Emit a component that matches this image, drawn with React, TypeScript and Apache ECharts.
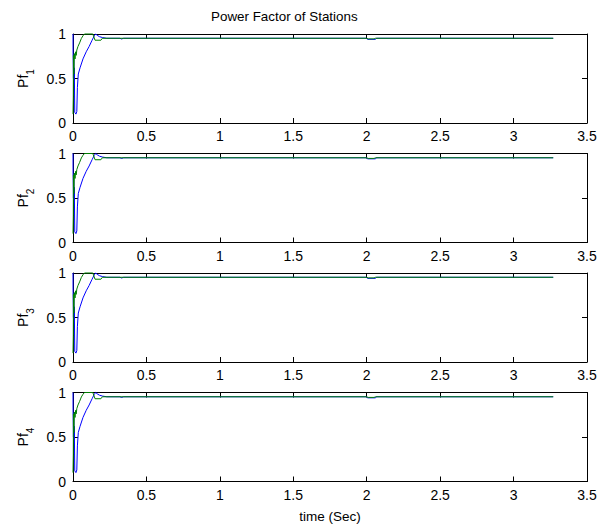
import { useEffect, useRef } from 'react';
import * as echarts from 'echarts';

const TITLE = 'Power Factor of Stations';
const X_LABEL = 'time (Sec)';
const STATIONS = ['1', '2', '3', '4'];

// blue trace (time in s, power factor)
const BLUE_T = [0, 0.0005, 0.003, 0.005, 0.007, 0.009, 0.012, 0.02, 0.026, 0.03, 0.036, 0.048, 0.068, 0.09, 0.11, 0.13, 0.145, 0.155, 0.165, 0.18, 0.2, 0.23, 0.32, 0.33, 0.345, 2.0, 2.005, 2.06, 2.065, 3.27];
const BLUE_PF = [1.0, 0.78, 0.5, 0.77, 0.48, 0.62, 0.12, 0.1, 0.13, 0.4, 0.55, 0.62, 0.72, 0.8, 0.86, 0.93, 0.98, 1.0, 0.985, 0.97, 0.96, 0.952, 0.952, 0.944, 0.952, 0.952, 0.94, 0.94, 0.952, 0.952];

// green trace
const GREEN_T = [0, 0.002, 0.003, 0.006, 0.009, 0.014, 0.018, 0.022, 0.026, 0.034, 0.045, 0.057, 0.068, 0.078, 0.135, 0.15, 0.19, 0.2, 2.0, 2.01, 2.05, 2.06, 3.27];
const GREEN_PF = [0.1, 0.3, 0.76, 0.55, 0.78, 0.72, 0.8, 0.76, 0.82, 0.86, 0.9, 0.95, 0.98, 1.0, 1.0, 0.93, 0.93, 0.952, 0.952, 0.945, 0.945, 0.952, 0.952];

const X_MIN = 0;
const X_MAX = 3.5;
const X_STEP = 0.5;
const Y_MIN = 0;
const Y_MAX = 1;
const Y_STEP = 0.5;

const FONT = '"Liberation Sans", Arial, sans-serif';

export default function App() {
  const ref = useRef<HTMLDivElement>(null);
  useEffect(() => {
    const chart = echarts.init(ref.current!, null, { renderer: 'svg' });
    const tops = [34, 153.5, 273, 392.5];
    const left = 73;
    const width = 514;
    const height = 89;
    const blue = BLUE_T.map((t, i) => [t, BLUE_PF[i]]);
    const green = GREEN_T.map((t, i) => [t, GREEN_PF[i]]);
    const line = { color: '#000', width: 1 };
    const tick = { show: true, inside: true, length: 5, lineStyle: { color: '#000', width: 1 } };
    const grids: any[] = [];
    const xAxes: any[] = [];
    const yAxes: any[] = [];
    const series: any[] = [];
    STATIONS.forEach((s, i) => {
      grids.push({ left, top: tops[i], width, height, show: false, containLabel: false });
      const last = i === STATIONS.length - 1;
      xAxes.push({
        type: 'value', gridIndex: i, position: 'bottom', min: X_MIN, max: X_MAX, interval: X_STEP,
        axisLine: { show: true, onZero: false, lineStyle: line }, axisTick: tick, splitLine: { show: false },
        axisLabel: { show: true, margin: 6, color: '#000', fontFamily: FONT, fontSize: 14, formatter: (v: number) => String(v) },
        name: last ? X_LABEL : '', nameLocation: 'middle', nameGap: 28,
        nameTextStyle: { color: '#000', fontFamily: FONT, fontSize: 13.5 },
      });
      xAxes.push({
        type: 'value', gridIndex: i, position: 'top', min: X_MIN, max: X_MAX, interval: X_STEP,
        axisLine: { show: true, onZero: false, lineStyle: line }, axisTick: tick, splitLine: { show: false },
        axisLabel: { show: false },
      });
      yAxes.push({
        type: 'value', gridIndex: i, position: 'left', min: Y_MIN, max: Y_MAX, interval: Y_STEP,
        axisLine: { show: true, onZero: false, lineStyle: line }, axisTick: tick, splitLine: { show: false },
        axisLabel: { show: true, margin: 7, color: '#000', fontFamily: FONT, fontSize: 14, formatter: (v: number) => String(v) },
        name: `{a|Pf}{b|${s}}`, nameLocation: 'middle', nameGap: 37, nameRotate: 90,
        nameTextStyle: {
          color: '#000', fontFamily: FONT, fontSize: 14,
          rich: {
            a: { color: '#000', fontFamily: FONT, fontSize: 14, lineHeight: 16, verticalAlign: 'top' },
            b: { color: '#000', fontFamily: FONT, fontSize: 10, lineHeight: 20, verticalAlign: 'bottom' },
          },
        },
      });
      yAxes.push({
        type: 'value', gridIndex: i, position: 'right', min: Y_MIN, max: Y_MAX, interval: Y_STEP,
        axisLine: { show: true, onZero: false, lineStyle: line }, axisTick: tick, splitLine: { show: false },
        axisLabel: { show: false },
      });
      series.push({
        type: 'line', xAxisIndex: 2 * i, yAxisIndex: 2 * i, data: blue, showSymbol: false, symbol: 'none',
        lineStyle: { color: '#0000ff', width: 1 }, itemStyle: { color: '#0000ff' }, clip: false, z: 3,
      });
      series.push({
        type: 'line', xAxisIndex: 2 * i, yAxisIndex: 2 * i, data: green, showSymbol: false, symbol: 'none',
        lineStyle: { color: '#008000', width: 1 }, itemStyle: { color: '#008000' }, clip: false, z: 4,
      });
    });
    chart.setOption({
      animation: false,
      backgroundColor: '#fff',
      title: { text: TITLE, left: 206, top: 5, textStyle: { color: '#000', fontFamily: FONT, fontSize: 13.4, fontWeight: 'normal' } },
      grid: grids,
      xAxis: xAxes,
      yAxis: yAxes,
      series,
    });
    return () => chart.dispose();
  }, []);
  return <div ref={ref} style={{ position: 'absolute', left: 0, top: 0, width: 604, height: 526, background: '#fff' }} />;
}
